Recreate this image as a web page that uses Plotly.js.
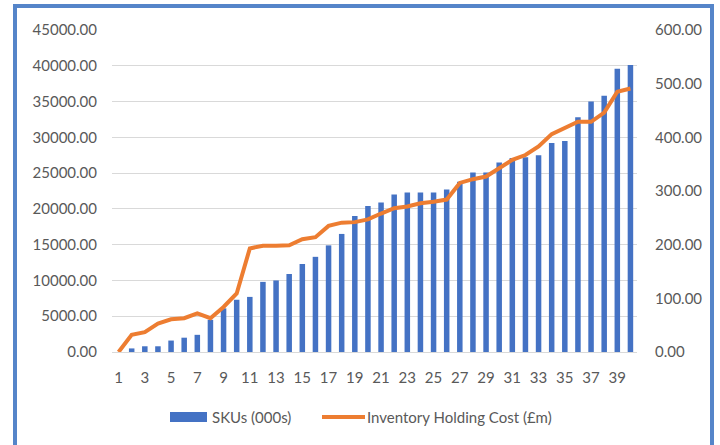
<!DOCTYPE html>
<html>
<head>
<meta charset="utf-8">
<script src="https://cdn.plot.ly/plotly-3.0.1.min.js"></script>
<style>
  html, body { margin: 0; padding: 0; background: #ffffff; }
  #wrap { position: relative; width: 720px; height: 445px; overflow: hidden; }
  #chart { position: absolute; left: 0; top: 0; width: 720px; height: 445px; }
  #frame { position: absolute; left: 13px; top: 4px; width: 693px; height: 460px;
           border: 4px solid #5585C9; pointer-events: none; }
</style>
</head>
<body>
<div id="wrap">
  <div id="chart"></div>
  <div id="frame"></div>
</div>
<script>
// ---- data ----
const categories = [1,2,3,4,5,6,7,8,9,10,11,12,13,14,15,16,17,18,19,20,
                    21,22,23,24,25,26,27,28,29,30,31,32,33,34,35,36,37,38,39,40];
const skus = [0, 500, 800, 800, 1600, 2000, 2400, 4500, 6100, 7300,
              7700, 9800, 10000, 10900, 12300, 13300, 14900, 16500, 19000, 20400,
              20900, 22000, 22300, 22300, 22300, 22700, 23800, 25100, 25100, 26500,
              27100, 27200, 27500, 29200, 29500, 32800, 35000, 35800, 39600, 40100];
const holdingCost = [0, 32, 37, 53, 61, 63, 72, 63, 84, 109,
                     193, 198, 198, 199, 210, 214, 235, 241, 242, 247,
                     258, 268, 271, 277, 280, 284, 315, 322, 327, 343,
                     358, 367, 383, 406, 417, 429, 429, 446, 485, 491];
const xTickVals = [1,3,5,7,9,11,13,15,17,19,21,23,25,27,29,31,33,35,37,39];
const xTickText = ["1","3","5","7","9","11","13","15","17","19","21","23","25","27","29","31","33","35","37","39"];
const seriesNames = ["SKUs (000s)", "Inventory Holding Cost (£m)"];

// ---- layout helpers ----
const W = 720, H = 445;
const M = { l: 112, r: 83, t: 30, b: 93 };
const pw = W - M.l - M.r, ph = H - M.t - M.b;
const px = x => (x - M.l) / pw;
const py = y => (H - M.b - y) / ph;

const fontFam = "Lato, 'Open Sans', sans-serif";
const tickFont = { family: fontFam, size: 15, color: "#595959" };

const traces = [
  { type: "bar", x: categories, y: skus, name: seriesNames[0],
    marker: { color: "#4472C4" }, yaxis: "y", hoverinfo: "x+y" },
  { type: "scatter", mode: "lines", x: categories, y: holdingCost, name: seriesNames[1],
    line: { color: "#ED7D31", width: 4 }, yaxis: "y2", hoverinfo: "x+y" }
];

const legY = 417;
const layout = {
  width: W, height: H,
  margin: M,
  paper_bgcolor: "#ffffff", plot_bgcolor: "#ffffff",
  showlegend: false,
  bargap: 0.58,
  font: { family: fontFam, color: "#595959" },
  xaxis: {
    type: "linear", range: [0.5, 40.5],
    tickmode: "array", tickvals: xTickVals, ticktext: xTickText,
    showgrid: false, zeroline: false,
    showline: true, linecolor: "#D9D9D9", linewidth: 1,
    ticks: "", tickfont: tickFont, ticklabelstandoff: 12,
    fixedrange: true
  },
  yaxis: {
    range: [0, 45000], dtick: 5000, tick0: 0, tickformat: ".2f",
    showgrid: true, gridcolor: "#D9D9D9", gridwidth: 1,
    zeroline: false, showline: false, ticks: "",
    tickfont: tickFont, ticklabelstandoff: 14, fixedrange: true
  },
  yaxis2: {
    range: [0, 600], dtick: 100, tick0: 0, tickformat: ".2f",
    overlaying: "y", side: "right",
    showgrid: false, zeroline: false, showline: false, ticks: "",
    tickfont: tickFont, ticklabelstandoff: 17, fixedrange: true
  },
  shapes: [
    { type: "rect", xref: "paper", yref: "paper",
      x0: px(170), x1: px(207), y0: py(legY - 5), y1: py(legY + 5),
      fillcolor: "#4472C4", line: { width: 0 } },
    { type: "line", xref: "paper", yref: "paper",
      x0: px(322), x1: px(365), y0: py(legY), y1: py(legY),
      line: { color: "#ED7D31", width: 4 } }
  ],
  annotations: [
    { xref: "paper", yref: "paper", x: px(210), y: py(legY),
      xanchor: "left", yanchor: "middle", showarrow: false,
      text: seriesNames[0], font: { family: fontFam, size: 15, color: "#595959" } },
    { xref: "paper", yref: "paper", x: px(365), y: py(legY),
      xanchor: "left", yanchor: "middle", showarrow: false,
      text: seriesNames[1], font: { family: fontFam, size: 15, color: "#595959" } }
  ]
};

Plotly.newPlot("chart", traces, layout, { displayModeBar: false, staticPlot: true });
</script>
</body>
</html>
